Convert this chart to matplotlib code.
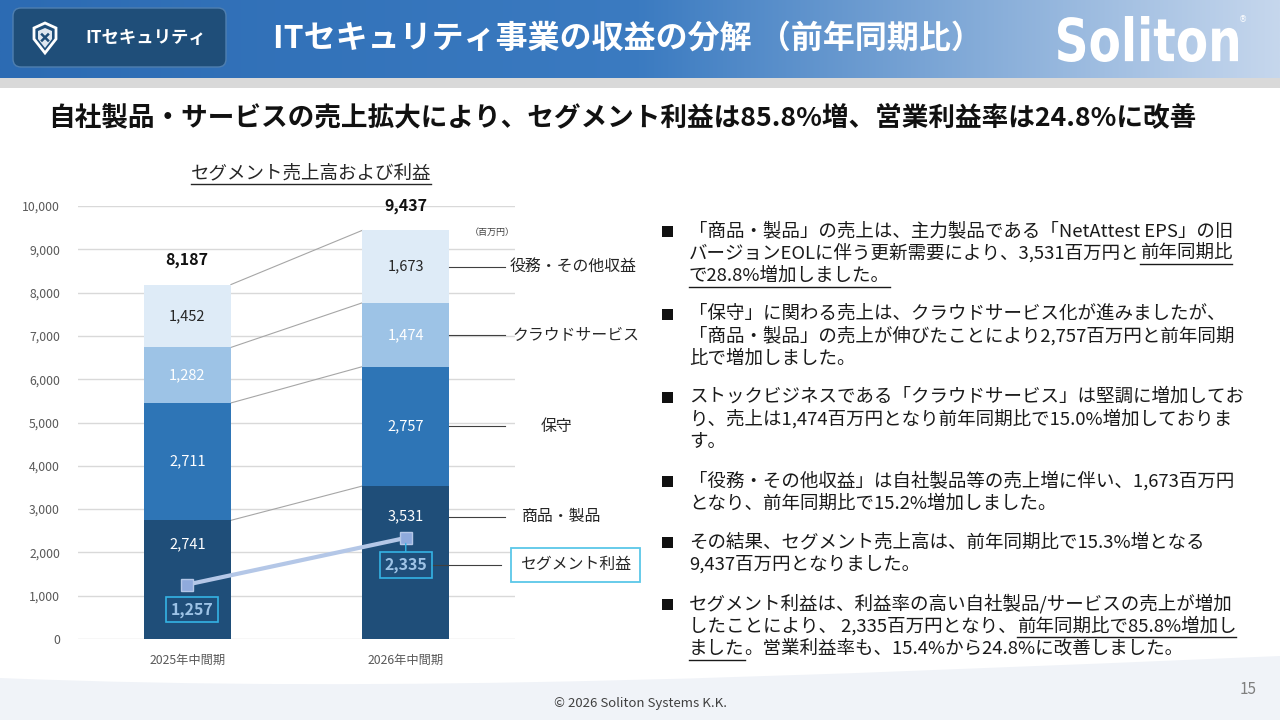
import numpy as np
import matplotlib
matplotlib.use('Agg')
import matplotlib.pyplot as plt
from matplotlib.patches import FancyBboxPatch, Rectangle, Polygon, PathPatch
from matplotlib.path import Path
from matplotlib.textpath import TextPath
from matplotlib.font_manager import FontProperties
from matplotlib.transforms import Affine2D
from matplotlib.ticker import FuncFormatter
import matplotlib.colors as mcolors

FONT = ['Noto Sans CJK JP', 'DejaVu Sans']
plt.rcParams['font.family'] = FONT

# chart data (百万円)
periods = ['2025年中間期', '2026年中間期']
segments = ['商品・製品', '保守', 'クラウドサービス', '役務・その他収益']
products = [2741, 3531]
maintenance = [2711, 2757]
cloud = [1282, 1474]
services = [1452, 1673]
totals = [8187, 9437]
profit = [1257, 2335]

title = 'ITセキュリティ事業の収益の分解 （前年同期比）'
subtitle = '自社製品・サービスの売上拡大により、セグメント利益は85.8%増、営業利益率は24.8%に改善'

# bullet text, (text, underlined) parts per line
bullets = [
    [[('「商品・製品」の売上は、主力製品である「NetAttest EPS」の旧', False)],
     [('バージョンEOLに伴う更新需要により、3,531百万円と', False), ('前年同期比', True)],
     [('で28.8%増加しました。', True)]],
    [[('「保守」に関わる売上は、クラウドサービス化が進みましたが、', False)],
     [('「商品・製品」の売上が伸びたことにより2,757百万円と前年同期', False)],
     [('比で増加しました。', False)]],
    [[('ストックビジネスである「クラウドサービス」は堅調に増加してお', False)],
     [('り、売上は1,474百万円となり前年同期比で15.0%増加しておりま', False)],
     [('す。', False)]],
    [[('「役務・その他収益」は自社製品等の売上増に伴い、1,673百万円', False)],
     [('となり、前年同期比で15.2%増加しました。', False)]],
    [[('その結果、セグメント売上高は、前年同期比で15.3%増となる', False)],
     [('9,437百万円となりました。', False)]],
    [[('セグメント利益は、利益率の高い自社製品/サービスの売上が増加', False)],
     [('したことにより、 2,335百万円となり、', False), ('前年同期比で85.8%増加し', True)],
     [('ました', True), ('。営業利益率も、15.4%から24.8%に改善しました。', False)]],
]

fig = plt.figure(figsize=(12.8, 7.2), dpi=100)
bg = fig.add_axes([0, 0, 1, 1])
bg.axis('off')
r = fig.canvas.get_renderer()

# header gradient
stops = [(0.0, '#2c6bb3'), (0.5, '#3b7bc1'), (1.0, '#c6d7ed')]
pos = np.linspace(0, 1, 512)
rgb = np.array([mcolors.to_rgb(c) for _, c in stops])
sp = [s for s, _ in stops]
grad = np.stack([np.interp(pos, sp, rgb[:, k]) for k in range(3)], axis=-1)[None, :, :]
bg.imshow(grad, extent=(0, 1280, 78, 0), aspect='auto', zorder=0)
bg.add_patch(Rectangle((0, 78), 1280, 10, color='#d9d9d9', lw=0, zorder=1))

# bottom wave
wave = Path([(0, 720), (0, 678), (400, 694), (800, 676), (1280, 656), (1280, 720), (0, 720)],
            [Path.MOVETO, Path.LINETO, Path.CURVE4, Path.CURVE4, Path.CURVE4, Path.LINETO, Path.CLOSEPOLY])
bg.add_patch(PathPatch(wave, fc='#f0f3f8', ec='none', zorder=0))

bg.set_xlim(0, 1280)
bg.set_ylim(720, 0)

# badge
bg.add_patch(FancyBboxPatch((13, 8), 213, 59, boxstyle='round,pad=0,rounding_size=8',
                            fc='#1f4e79', ec='#4f7fb0', lw=1, zorder=2))
shield = [(45, 23), (56, 28), (56, 39), (45, 53), (34, 39), (34, 28)]
bg.add_patch(Polygon(shield, closed=True, fc='none', ec='white', lw=2, zorder=3))
inner = [(45, 28), (52, 31), (52, 39), (45, 48), (38, 39), (38, 31)]
bg.add_patch(Polygon(inner, closed=True, fc='#dfe7f0', ec='none', zorder=3))
bg.plot([42, 48], [34.5, 40.5], color='#1f4e79', lw=1.8, zorder=4)
bg.plot([42, 48], [40.5, 34.5], color='#1f4e79', lw=1.8, zorder=4)
bg.text(85, 38, 'ITセキュリティ', color='white', fontsize=12.5, fontweight='bold', va='center', zorder=4)

bg.text(273, 39, title, color='white', fontsize=23, fontweight='bold', va='center', zorder=4)

# logo, squeezed into its box
tp = TextPath((0, 0), 'Soliton', size=1, prop=FontProperties(family='DejaVu Sans', weight='bold'))
ext = tp.get_extents()
tr = Affine2D().translate(-ext.x0, -ext.y0).scale(180 / ext.width, -46 / ext.height).translate(1058, 62)
bg.add_patch(PathPatch(tr.transform_path(tp), fc='white', ec='none', zorder=4))
bg.text(1243, 20, '®', color='white', fontsize=6, ha='center', va='center', family=['DejaVu Sans'], zorder=4)

bg.text(48, 118, subtitle, color='#111111', fontsize=19.2, fontweight='bold', va='center')

# chart title (underlined)
t = bg.text(311, 173, 'セグメント売上高および利益', fontsize=13.3, ha='center', va='center', color='#262626')
tw = t.get_window_extent(r).width
bg.plot([311 - tw / 2, 311 + tw / 2], [184, 184], color='#262626', lw=1)

# bullet text column
bullet_y = [231, 314, 397, 481, 542, 604]
gap = 22.3
for by, para in zip(bullet_y, bullets):
    bg.add_patch(Rectangle((662, by - 5.5), 11, 11, color='#111111', lw=0))
    for k, parts in enumerate(para):
        y = by + k * gap
        xx = 689
        for txt, ul in parts:
            tt = bg.text(xx, y, txt, fontsize=13.3, va='center', ha='left', color='#1a1a1a')
            w = tt.get_window_extent(r).width
            if ul:
                bg.plot([xx, xx + w], [y + 11, y + 11], color='#1a1a1a', lw=1)
            xx += w

bg.text(640, 703, '© 2026 Soliton Systems K.K.', fontsize=9.5, ha='center', va='center', color='#404040')
bg.text(1248, 690, '15', fontsize=11, ha='center', va='center', color='#7f7f7f')

# stacked bar chart
ax = fig.add_axes([78 / 1280, 1 - 639 / 720, 437 / 1280, 433 / 720])
ax.patch.set_alpha(0)
x = np.arange(len(periods))
w = 0.4
series = [products, maintenance, cloud, services]
colors = ['#1f4e79', '#2e75b6', '#9dc3e6', '#deebf7']
txtcol = ['white', 'white', 'white', '#262626']
bottom = np.zeros(len(periods))
tops = []
label_y = []
for i, (vals, c, tc) in enumerate(zip(series, colors, txtcol)):
    vals = np.array(vals, dtype=float)
    ax.bar(x, vals, w, bottom=bottom, color=c, zorder=2)
    ly = bottom + (0.8 * vals if i == 0 else vals / 2)
    for xi, v, yy in zip(x, vals, ly):
        ax.text(xi, yy, f'{int(v):,}', ha='center', va='center', color=tc, fontsize=10.5, zorder=5)
    label_y.append(ly[-1])
    bottom = bottom + vals
    tops.append(bottom.copy())

for top in tops:
    ax.plot([x[0] + w / 2, x[1] - w / 2], [top[0], top[1]], color='#a6a6a6', lw=0.8, zorder=1)

for xi, tot, top in zip(x, totals, tops[-1]):
    ax.annotate(f'{tot:,}', (xi, top), xytext=(0, 17.5), textcoords='offset points',
                ha='center', va='center', fontsize=11.5, fontweight='bold', color='#111111')

# segment labels on the right
label_x = [1.53, 1.618, 1.49, 1.476]
for name, ly, lx in zip(segments, label_y, label_x):
    ax.plot([x[-1] + w / 2, 1.453], [ly, ly], color='#404040', lw=0.8, clip_on=False)
    ax.text(lx, ly, name, ha='left', va='center', fontsize=11.4, color='#262626', clip_on=False)

# segment profit
ax.plot(x, profit, color='#b4c7e7', lw=3, marker='s', ms=9, mfc='#8faadc', mec='#b4c7e7', zorder=4)
offs = [(3.2, -18), (0, -19.4)]
for i, (xi, v) in enumerate(zip(x, profit)):
    ap = dict(arrowstyle='-', color='#34b3e4', lw=1, shrinkA=0, shrinkB=4) if i == 1 else None
    ax.annotate(f'{v:,}', (xi, v), xytext=offs[i], textcoords='offset points', ha='center', va='center',
                fontsize=11.5, fontweight='bold', color='#9dc3e6', zorder=5, arrowprops=ap,
                bbox=dict(boxstyle='square,pad=0.3', fc='none', ec='#34b3e4', lw=1.2))
px = 10000 / 433
yb = profit[-1] - 27 * px
ax.plot([1.115, 1.435], [yb, yb], color='#404040', lw=0.8, clip_on=False)
ax.text(1.778, yb, 'セグメント利益', ha='center', va='center', fontsize=11.4, color='#262626', clip_on=False,
        bbox=dict(boxstyle='square,pad=0.55', fc='white', ec='#5bc7e8', lw=1.3))
ax.text(1.398, 9398, '（百万円）', ha='center', va='center', fontsize=6.5, color='#404040', clip_on=False)

ax.set_xlim(-0.5, 1.5)
ax.set_ylim(0, 10000)
ax.set_yticks(range(0, 10001, 1000))
ax.yaxis.set_major_formatter(FuncFormatter(lambda v, p: f'{int(v):,}'))
ax.set_xticks(x)
ax.set_xticklabels(periods)
ax.tick_params(axis='y', length=0, pad=13, labelsize=8.8, labelcolor='#595959')
ax.tick_params(axis='x', length=0, pad=11, labelsize=8.8, labelcolor='#595959')
ax.yaxis.grid(True, color='#d9d9d9', lw=1, zorder=0)
ax.set_axisbelow(True)
for s in ax.spines.values():
    s.set_visible(False)

fig.savefig('out.png', dpi=100)
